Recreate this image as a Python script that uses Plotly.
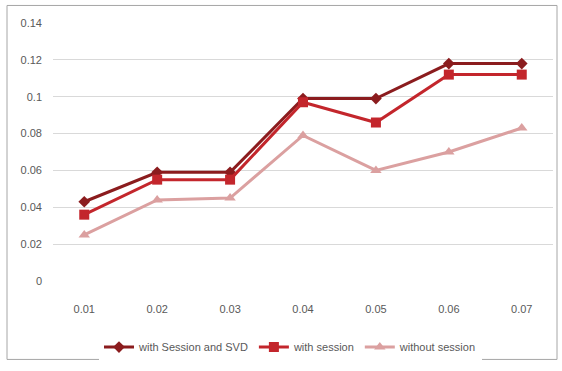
import plotly.graph_objects as go

categories = ["0.01", "0.02", "0.03", "0.04", "0.05", "0.06", "0.07"]
with_session_svd = [0.043, 0.059, 0.059, 0.099, 0.099, 0.118, 0.118]
with_session = [0.036, 0.055, 0.055, 0.097, 0.086, 0.112, 0.112]
without_session = [0.025, 0.044, 0.045, 0.079, 0.060, 0.070, 0.083]
y_ticks = [0, 0.02, 0.04, 0.06, 0.08, 0.1, 0.12, 0.14]
y_tick_text = ["0", "0.02", "0.04", "0.06", "0.08", "0.1", "0.12", "0.14"]

series = [
    ("with Session and SVD", with_session_svd, "#8B1C1E", "diamond", 9),
    ("with session", with_session, "#C3262C", "square", 10),
    ("without session", without_session, "#DBA0A0", "triangle-up", 10),
]

fig = go.Figure()
for name, vals, color, symbol, size in series:
    fig.add_trace(go.Scatter(
        x=categories, y=vals, name=name, mode="lines+markers",
        line=dict(color=color, width=3),
        marker=dict(symbol=symbol, size=size, color=color),
    ))

fig.update_layout(
    width=562, height=371,
    margin=dict(l=53, r=9, t=23, b=85),
    paper_bgcolor="white", plot_bgcolor="white",
    font=dict(family="Liberation Sans, Arial, sans-serif", size=11, color="#595959"),
    xaxis=dict(type="category", showgrid=False, zeroline=False, showline=False,
               ticks="", tickfont=dict(size=11), ticklabelstandoff=20),
    yaxis=dict(range=[0, 0.14], tickvals=y_ticks, ticktext=y_tick_text,
               showgrid=True, gridcolor="#D9D9D9", gridwidth=1,
               zeroline=False, showline=False, ticks="", ticklabelstandoff=10),
    legend=dict(orientation="h", x=0.475, xanchor="center", y=-0.2, yanchor="top",
                font=dict(size=11, color="#595959"), itemwidth=30,
                tracegroupgap=0),
    showlegend=True,
    shapes=[dict(type="rect", xref="paper", yref="paper",
                 x0=-0.092, x1=1.008, y0=-0.304, y1=1.068,
                 line=dict(color="#A6A6A6", width=1))],
)

fig.write_html("out.html")
